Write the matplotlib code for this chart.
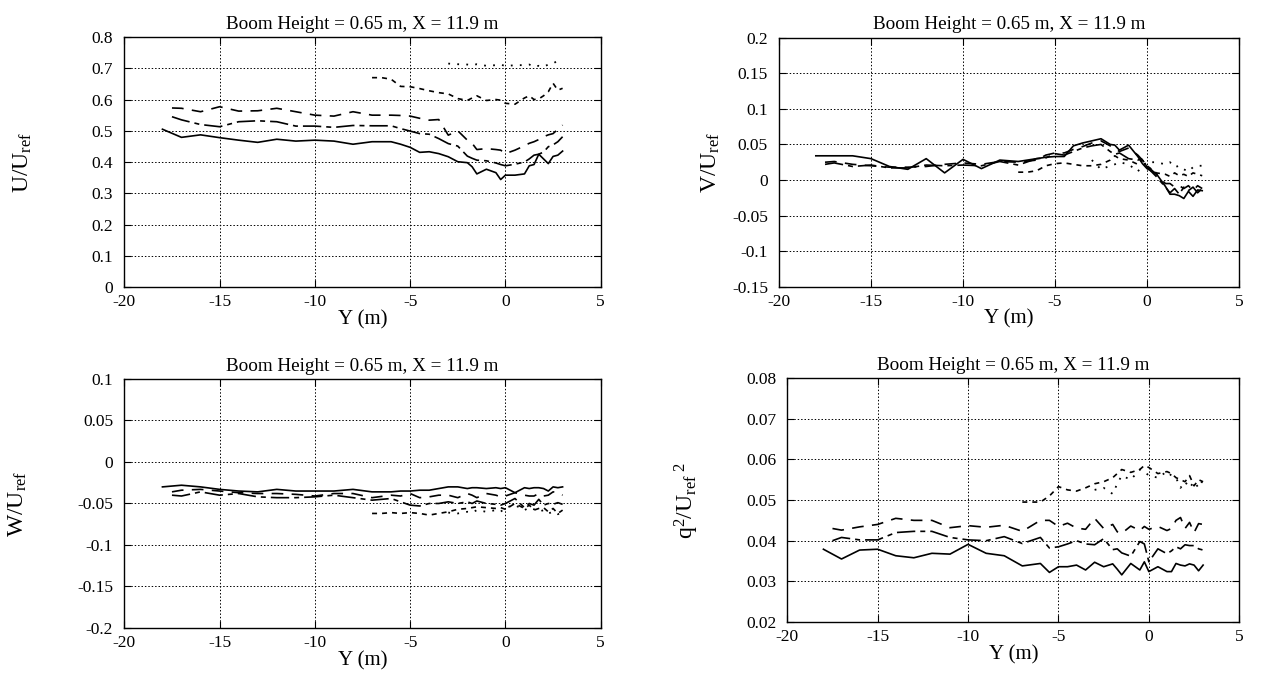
"""
Boom height 0.65 m, X = 11.9 m -- velocity ratios and q^2 across the span.
Four panels: U, V, W over U_ref and q^2/U_ref^2 against lateral position Y.
"""

import matplotlib
matplotlib.use("Agg")
import matplotlib.pyplot as plt

plt.rcParams["font.family"] = ["Liberation Serif", "DejaVu Serif"]
plt.rcParams["mathtext.fontset"] = "custom"
plt.rcParams["mathtext.rm"] = "Liberation Serif"
plt.rcParams["mathtext.it"] = "Liberation Serif:italic"
plt.rcParams["axes.unicode_minus"] = False

# ── Lateral stations (m) ──────────────────────────────────────────────────────
Y_A = [-18, -17, -16, -15, -14, -13, -12, -11, -10, -9, -8, -7, -6, -5.5, -5,
       -4.5, -4, -3.5, -3, -2.5, -2, -1.75, -1.5, -1, -0.5, -0.25, 0, 0.5, 1,
       1.25, 1.5, 1.75, 2, 2.25, 2.5, 2.75, 3]
Y_B = [-17.5, -17, -16, -15, -14, -13, -12, -11, -10, -9, -8, -7, -6, -5.5, -5,
       -4.5, -4, -3.5, -3, -2.5, -2, -1.75, -1.5, -1, -0.5, -0.25, 0, 0.5, 1,
       1.25, 1.5, 1.75, 2, 2.25, 2.5, 2.75, 3]
Y_C = [-7, -6.5, -6, -5.5, -5, -4.5, -4, -3.5, -3, -2.5, -2, -1.75, -1.5, -1,
       -0.5, -0.25, 0, 0.5, 1, 1.25, 1.5, 1.75, 2, 2.25, 2.5, 2.75, 3]
Y_D = [-3, -2.5, -2, -1.75, -1.5, -1, -0.5, -0.25, 0, 0.5, 1, 1.25, 1.5, 1.75,
       2, 2.25, 2.5, 2.75, 3]

# ── U / U_ref ─────────────────────────────────────────────────────────────────
U_A = [0.505, 0.479, 0.487, 0.478, 0.470, 0.463, 0.473, 0.467, 0.470, 0.467,
       0.457, 0.465, 0.465, 0.457, 0.447, 0.431, 0.433, 0.427, 0.417, 0.401,
       0.398, 0.385, 0.362, 0.377, 0.366, 0.344, 0.358, 0.358, 0.362, 0.388,
       0.392, 0.425, 0.410, 0.395, 0.418, 0.422, 0.435]
U_B1 = [0.573, 0.572, 0.561, 0.577, 0.563, 0.564, 0.572, 0.561, 0.550, 0.547,
        0.561, 0.550, 0.550, 0.549, 0.547, 0.540, 0.534, 0.536, 0.486, 0.500,
        0.470, 0.460, 0.440, 0.443, 0.440, 0.438, 0.427, 0.438, 0.452, 0.460,
        0.465, 0.472, 0.481, 0.487, 0.491, 0.505, 0.518]
U_B2 = [0.545, 0.535, 0.520, 0.513, 0.529, 0.532, 0.529, 0.515, 0.515, 0.511,
        0.517, 0.516, 0.516, 0.507, 0.499, 0.491, 0.489, 0.475, 0.459, 0.451,
        0.419, 0.412, 0.406, 0.404, 0.397, 0.392, 0.388, 0.393, 0.400, 0.410,
        0.422, 0.425, 0.432, 0.449, 0.455, 0.465, 0.481]
U_C = [0.670, 0.670, 0.665, 0.642, 0.641, 0.635, 0.628, 0.622, 0.618, 0.603,
       0.597, 0.605, 0.612, 0.597, 0.600, 0.598, 0.588, 0.585, 0.605, 0.612,
       0.600, 0.602, 0.612, 0.625, 0.652, 0.630, 0.636]
U_D = [0.715, 0.713, 0.712, 0.710, 0.713, 0.708, 0.710, 0.712, 0.707, 0.710,
       0.710, 0.712, 0.705, 0.708, 0.705, 0.712, 0.715, 0.725, 0.722]

# ── V / U_ref ─────────────────────────────────────────────────────────────────
V_A = [0.034, 0.034, 0.034, 0.030, 0.019, 0.015, 0.030, 0.010, 0.029, 0.016,
       0.028, 0.026, 0.030, 0.032, 0.033, 0.033, 0.048, 0.052, 0.055, 0.058,
       0.050, 0.049, 0.042, 0.049, 0.033, 0.023, 0.016, 0.009, -0.009, -0.020,
       -0.020, -0.022, -0.026, -0.016, -0.023, -0.014, -0.015]
V_B1 = [0.025, 0.026, 0.022, 0.020, 0.018, 0.018, 0.019, 0.022, 0.024, 0.022,
        0.026, 0.025, 0.028, 0.035, 0.038, 0.038, 0.043, 0.047, 0.052, 0.055,
        0.048, 0.045, 0.040, 0.045, 0.035, 0.028, 0.020, 0.008, -0.005, -0.005,
        -0.010, -0.008, -0.012, -0.008, -0.015, -0.008, -0.012]
V_B2 = [0.022, 0.024, 0.019, 0.021, 0.017, 0.017, 0.021, 0.020, 0.021, 0.020,
        0.026, 0.021, 0.030, 0.031, 0.037, 0.035, 0.040, 0.045, 0.048, 0.050,
        0.040, 0.036, 0.038, 0.030, 0.028, 0.030, 0.018, 0.005, -0.010, -0.018,
        -0.012, -0.020, -0.010, -0.015, -0.010, -0.018, -0.012]
V_C = [0.011, 0.011, 0.013, 0.020, 0.023, 0.024, 0.022, 0.020, 0.020, 0.022,
       0.028, 0.034, 0.030, 0.028, 0.022, 0.028, 0.020, 0.010, 0.008, 0.005,
       0.010, 0.006, 0.008, 0.005, 0.010, 0.008, 0.006]
V_D = [0.028, 0.015, 0.020, 0.022, 0.025, 0.022, 0.012, 0.020, 0.025, 0.025,
       0.022, 0.025, 0.018, 0.020, 0.015, 0.012, 0.018, 0.020, 0.020]

# ── W / U_ref ─────────────────────────────────────────────────────────────────
W_A = [-0.030, -0.028, -0.030, -0.033, -0.035, -0.036, -0.033, -0.035, -0.035,
       -0.035, -0.033, -0.036, -0.036, -0.035, -0.035, -0.034, -0.034, -0.032,
       -0.030, -0.030, -0.032, -0.031, -0.031, -0.032, -0.031, -0.032, -0.031,
       -0.037, -0.031, -0.032, -0.031, -0.031, -0.032, -0.035, -0.030, -0.031,
       -0.030]
W_B1 = [-0.036, -0.034, -0.033, -0.035, -0.037, -0.038, -0.038, -0.039, -0.041,
        -0.038, -0.038, -0.043, -0.040, -0.041, -0.038, -0.043, -0.042, -0.040,
        -0.040, -0.043, -0.038, -0.040, -0.043, -0.038, -0.040, -0.042, -0.041,
        -0.037, -0.040, -0.041, -0.041, -0.038, -0.041, -0.040, -0.036, -0.037,
        -0.040]
W_B2 = [-0.040, -0.041, -0.036, -0.040, -0.038, -0.042, -0.043, -0.043, -0.042,
        -0.040, -0.043, -0.046, -0.044, -0.048, -0.052, -0.053, -0.050, -0.050,
        -0.048, -0.050, -0.048, -0.050, -0.047, -0.050, -0.051, -0.052, -0.050,
        -0.044, -0.055, -0.050, -0.052, -0.045, -0.052, -0.050, -0.051, -0.049,
        -0.051]
W_C = [-0.062, -0.062, -0.061, -0.062, -0.061, -0.062, -0.064, -0.062, -0.060,
       -0.057, -0.056, -0.055, -0.054, -0.055, -0.056, -0.055, -0.057, -0.050,
       -0.056, -0.052, -0.058, -0.056, -0.055, -0.060, -0.056, -0.062, -0.058]
W_D = [-0.061, -0.062, -0.060, -0.061, -0.058, -0.060, -0.058, -0.060, -0.055,
       -0.052, -0.058, -0.055, -0.057, -0.060, -0.058, -0.062, -0.060, -0.063,
       -0.060]

# ── q^2 / U_ref^2 ─────────────────────────────────────────────────────────────
Q_A = [0.0379, 0.0355, 0.0377, 0.0379, 0.0363, 0.0358, 0.0369, 0.0367, 0.0391,
       0.0369, 0.0363, 0.0338, 0.0344, 0.0322, 0.0336, 0.0336, 0.0340, 0.0328,
       0.0347, 0.0336, 0.0343, 0.0330, 0.0316, 0.0344, 0.0328, 0.0348, 0.0324,
       0.0336, 0.0324, 0.0324, 0.0344, 0.0340, 0.0338, 0.0343, 0.0340, 0.0326,
       0.0340]
Q_B1 = [0.0430, 0.0426, 0.0434, 0.0440, 0.0455, 0.0450, 0.0450, 0.0432, 0.0437,
        0.0433, 0.0438, 0.0423, 0.0450, 0.0450, 0.0435, 0.0443, 0.0431, 0.0428,
        0.0455, 0.0430, 0.0440, 0.0422, 0.0418, 0.0436, 0.0425, 0.0435, 0.0428,
        0.0435, 0.0425, 0.0430, 0.0450, 0.0457, 0.0430, 0.0445, 0.0420, 0.0442,
        0.0440]
Q_B2 = [0.0400, 0.0408, 0.0402, 0.0402, 0.0420, 0.0423, 0.0423, 0.0408, 0.0402,
        0.0400, 0.0410, 0.0393, 0.0408, 0.0382, 0.0385, 0.0392, 0.0400, 0.0392,
        0.0390, 0.0405, 0.0378, 0.0380, 0.0370, 0.0362, 0.0398, 0.0392, 0.0348,
        0.0380, 0.0368, 0.0375, 0.0385, 0.0380, 0.0390, 0.0388, 0.0388, 0.0380,
        0.0377]
Q_C = [0.0495, 0.0495, 0.0495, 0.0510, 0.0533, 0.0525, 0.0522, 0.0530, 0.0540,
       0.0545, 0.0555, 0.0565, 0.0575, 0.0568, 0.0575, 0.0585, 0.0580, 0.0565,
       0.0570, 0.0565, 0.0555, 0.0550, 0.0545, 0.0560, 0.0535, 0.0550, 0.0545]
Q_D = [0.0525, 0.0530, 0.0515, 0.0540, 0.0560, 0.0550, 0.0575, 0.0570, 0.0560,
       0.0555, 0.0570, 0.0560, 0.0555, 0.0530, 0.0545, 0.0530, 0.0545, 0.0530,
       0.0550]

TITLE = "Boom Height = 0.65 m, X = 11.9 m"

# ── Line styles: solid, long dash, dash-dot, short dash, dotted ──────────────
STYLES = [
    dict(ls="-", lw=1.2),
    dict(ls=(0, (7, 5)), lw=1.2),
    dict(ls=(0, (11, 3, 3, 3)), lw=1.2),
    dict(ls=(0, (3, 3)), lw=1.2),
    dict(ls=(0, (1, 4)), lw=1.3),
]


def panel(rect, series, ylim, yticks, ylabel, label_x):
    ax = fig.add_axes(rect)
    ys = [Y_A, Y_B, Y_B, Y_C, Y_D]
    for y, vals, st in zip(ys, series, STYLES):
        ax.plot(y, vals, color="black", **st)
    ax.set_xlim(-20, 5)
    ax.set_ylim(*ylim)
    ax.set_xticks([-20, -15, -10, -5, 0, 5])
    ax.set_yticks(yticks)
    ax.set_yticklabels([f"{t:g}" for t in yticks])
    ax.grid(True, color="black", ls=(0, (1.5, 2)), lw=0.7)
    ax.tick_params(direction="in", top=True, right=True, length=5,
                   labelsize=12.5)
    ax.tick_params(axis="y", pad=8)
    ax.tick_params(axis="x", pad=5)
    for s in ax.spines.values():
        s.set_linewidth(1.0)
    ax.set_title(TITLE, fontsize=13.8, pad=6)
    ax.set_xlabel("Y (m)", fontsize=15, labelpad=0)
    ax.set_ylabel(ylabel, fontsize=17)
    ax.yaxis.set_label_coords(label_x, 0.5)
    return ax


fig = plt.figure(figsize=(12.7, 6.77), dpi=100)

panel([0.0979, 0.576, 0.3751, 0.3693], [U_A, U_B1, U_B2, U_C, U_D],
      (0, 0.8), [0, 0.1, 0.2, 0.3, 0.4, 0.5, 0.6, 0.7, 0.8],
      r"U/U$_{\mathrm{ref}}$", -0.19)
panel([0.6134, 0.5765, 0.3622, 0.3678], [V_A, V_B1, V_B2, V_C, V_D],
      (-0.15, 0.2), [-0.15, -0.1, -0.05, 0, 0.05, 0.1, 0.15, 0.2],
      r"V/U$_{\mathrm{ref}}$", -0.125)
panel([0.0979, 0.0724, 0.3751, 0.3678], [W_A, W_B1, W_B2, W_C, W_D],
      (-0.2, 0.1), [-0.2, -0.15, -0.1, -0.05, 0, 0.05, 0.1],
      r"W/U$_{\mathrm{ref}}$", -0.2)
panel([0.6199, 0.0812, 0.3559, 0.3604], [Q_A, Q_B1, Q_B2, Q_C, Q_D],
      (0.02, 0.08), [0.02, 0.03, 0.04, 0.05, 0.06, 0.07, 0.08],
      r"q$^{2}$/U$_{\mathrm{ref}}$$^{\ 2}$", -0.19)

fig.savefig("out.png", dpi=100)
